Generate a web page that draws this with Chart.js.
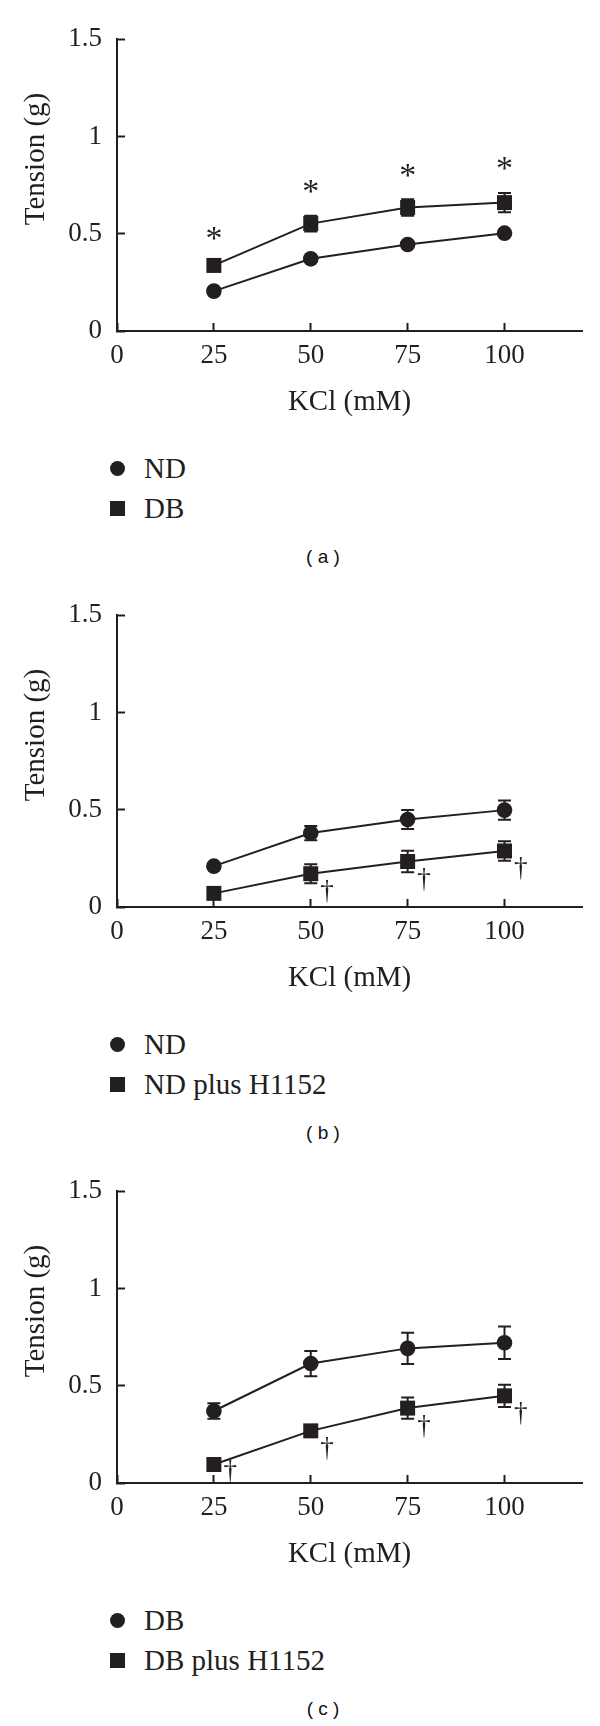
<!DOCTYPE html>
<html>
<head>
<meta charset="utf-8">
<script src="https://cdn.jsdelivr.net/npm/chart.js@4.4.1/dist/chart.umd.min.js"></script>
<style>
  html, body { margin: 0; padding: 0; background: #fff; width: 600px; height: 1726px; overflow: hidden; }
  .panel { position: absolute; left: 0; width: 600px; height: 576px; }
  .panel canvas { position: absolute; left: 0; top: 0; }
  .item { position: absolute; left: 0; width: 600px; height: 40px; font-family: 'Liberation Serif', serif; font-size: 29px; line-height: 40px; color: #231f20; }
  .item .txt { position: absolute; left: 144px; top: 0; white-space: nowrap; }
  .item .circ { position: absolute; left: 109.5px; top: 12.5px; width: 15px; height: 15px; border-radius: 50%; background: #231f20; }
  .item .sq { position: absolute; left: 110px; top: 13px; width: 15px; height: 15px; background: #231f20; }
  .caption { position: absolute; left: 0; width: 646px; text-align: center; font-family: 'Liberation Sans', Arial, sans-serif; font-size: 19px; line-height: 24px; color: #111; }
</style>
</head>
<body>
<div id="root"></div>
<script>
// ---------- shared axis data ----------
const kcl = [25, 50, 75, 100];
const xTicks = [0, 25, 50, 75, 100];
const yTicks = [0, 0.5, 1, 1.5];
const yTickLabels = ['0', '0.5', '1', '1.5'];
const xTitle = 'KCl (mM)';
const yTitle = 'Tension (g)';

// ---------- panel (a) ----------
const aCaption = '( a )';
const aLabels = ['ND', 'DB'];
const aND = [0.205, 0.371, 0.445, 0.503];
const aNDErr = [0.015, 0.015, 0.015, 0.015];
const aDB = [0.337, 0.552, 0.635, 0.660];
const aDBErr = [0.015, 0.040, 0.042, 0.050];
const aDBMarks = ['*', '*', '*', '*'];

// ---------- panel (b) ----------
const bCaption = '( b )';
const bLabels = ['ND', 'ND plus H1152'];
const bND = [0.210, 0.380, 0.450, 0.498];
const bNDErr = [0.015, 0.037, 0.049, 0.049];
const bH = [0.070, 0.171, 0.234, 0.288];
const bHErr = [0.015, 0.049, 0.055, 0.050];
const bHMarks = ['', '†', '†', '†'];

// ---------- panel (c) ----------
const cCaption = '( c )';
const cLabels = ['DB', 'DB plus H1152'];
const cDB = [0.370, 0.614, 0.692, 0.721];
const cDBErr = [0.040, 0.065, 0.080, 0.083];
const cH = [0.095, 0.268, 0.385, 0.448];
const cHErr = [0.015, 0.020, 0.055, 0.057];
const cHMarks = ['†', '†', '†', '†'];

const INK = '#231f20';
const SERIF = "'Liberation Serif', 'Times New Roman', serif";

const extras = {
  id: 'extras',
  beforeDatasetsDraw(chart) {
    const { ctx, scales: { x, y } } = chart;
    ctx.save();
    ctx.strokeStyle = INK;
    ctx.lineWidth = 2;
    chart.data.datasets.forEach(ds => {
      if (!ds.errors) return;
      ds.data.forEach((p, i) => {
        const e = ds.errors[i];
        if (!e) return;
        const px = x.getPixelForValue(p.x);
        const yt = y.getPixelForValue(p.y + e);
        const yb = y.getPixelForValue(p.y - e);
        ctx.beginPath();
        ctx.moveTo(px, yt); ctx.lineTo(px, yb);
        ctx.moveTo(px - 6.5, yt); ctx.lineTo(px + 6.5, yt);
        ctx.moveTo(px - 6.5, yb); ctx.lineTo(px + 6.5, yb);
        ctx.stroke();
      });
    });
    ctx.restore();
  },
  afterDraw(chart) {
    const { ctx, scales: { x, y } } = chart;
    ctx.save();
    ctx.fillStyle = INK;
    const zeroPix = y.getPixelForValue(0);
    chart.data.datasets.forEach(ds => {
      if (!ds.marks) return;
      ds.data.forEach((p, i) => {
        const s = ds.marks[i];
        if (!s) return;
        const px = x.getPixelForValue(p.x);
        let cx, cy;
        if (s === '*') {
          ctx.font = '34px ' + SERIF;
          cx = px;
          cy = y.getPixelForValue(p.y + (ds.errors ? ds.errors[i] : 0)) - 29;
        } else {
          ctx.font = '27px ' + SERIF;
          cx = px + 16;
          cy = Math.min(y.getPixelForValue(p.y) + 18, zeroPix - 12);
        }
        const m = ctx.measureText(s);
        const w = m.actualBoundingBoxLeft + m.actualBoundingBoxRight;
        const h = m.actualBoundingBoxAscent + m.actualBoundingBoxDescent;
        ctx.textBaseline = 'alphabetic';
        ctx.textAlign = 'left';
        ctx.fillText(s, cx - w / 2 + m.actualBoundingBoxLeft, cy - h / 2 + m.actualBoundingBoxAscent);
      });
    });
    // y-axis title
    ctx.translate(36, 159);
    ctx.rotate(-Math.PI / 2);
    ctx.font = '29px ' + SERIF;
    ctx.textAlign = 'center';
    ctx.textBaseline = 'middle';
    ctx.fillText(chart.options.yTitleText, 0, 0);
    ctx.restore();
  }
};

function series(vals, errs, style, marks) {
  return {
    data: kcl.map((k, i) => ({ x: k, y: vals[i] })),
    errors: errs,
    marks: marks || null,
    borderColor: INK,
    borderWidth: 2,
    pointStyle: style,
    pointRadius: style === 'rect' ? 10.6 : 7.8,
    pointBackgroundColor: INK,
    pointBorderColor: INK,
    pointBorderWidth: 0,
    tension: 0,
    clip: false
  };
}

function makePanel(top, labels, ds1, ds2, caption) {
  const root = document.getElementById('root');
  const div = document.createElement('div');
  div.className = 'panel';
  div.style.top = top + 'px';
  const canvas = document.createElement('canvas');
  canvas.width = 600; canvas.height = 430;
  canvas.style.width = '600px'; canvas.style.height = '430px';
  div.appendChild(canvas);

  // legend
  const legendY = [468, 508];
  labels.forEach((lab, i) => {
    const it = document.createElement('div');
    it.className = 'item';
    it.style.top = (legendY[i] - 20) + 'px';
    const sym = document.createElement('div');
    sym.className = i === 0 ? 'circ' : 'sq';
    const t = document.createElement('span');
    t.className = 'txt';
    t.textContent = lab;
    it.appendChild(sym); it.appendChild(t);
    div.appendChild(it);
  });
  const cap = document.createElement('div');
  cap.className = 'caption';
  cap.style.top = (559 - 13.7) + 'px';
  cap.textContent = caption;
  div.appendChild(cap);
  root.appendChild(div);

  ds1.label = labels[0];
  ds2.label = labels[1];

  new Chart(canvas.getContext('2d'), {
    type: 'line',
    data: { datasets: [ds1, ds2] },
    options: {
      responsive: false,
      animation: false,
      devicePixelRatio: 1,
      yTitleText: yTitle,
      layout: { padding: { top: 23, right: 18, left: 0, bottom: 0 } },
      plugins: { legend: { display: false }, tooltip: { enabled: false } },
      scales: {
        x: {
          type: 'linear',
          min: 0, max: 120,
          afterBuildTicks: s => { s.ticks = xTicks.map(v => ({ value: v })); },
          afterFit: s => { s.height = 99; },
          grid: { drawOnChartArea: false, drawTicks: true, tickLength: -8, tickWidth: 2, color: INK },
          border: { display: true, color: INK, width: 2 },
          ticks: { font: { family: SERIF, size: 27 }, color: INK, padding: 17, maxRotation: 0, autoSkip: false },
          title: { display: true, text: xTitle, font: { family: SERIF, size: 29 }, color: INK, padding: { top: 0, bottom: 10 } }
        },
        y: {
          type: 'linear',
          min: 0, max: 1.5,
          afterBuildTicks: s => { s.ticks = yTicks.map(v => ({ value: v })); },
          afterFit: s => { s.width = 117; },
          grid: { drawOnChartArea: false, drawTicks: true, tickLength: -8, tickWidth: 2, color: INK },
          border: { display: true, color: INK, width: 2 },
          ticks: {
            font: { family: SERIF, size: 27 }, color: INK, padding: 23,
            callback: v => { const k = yTicks.indexOf(v); return k >= 0 ? yTickLabels[k] : ''; }
          }
        }
      }
    },
    plugins: [extras]
  });
}

makePanel(0, aLabels, series(aND, aNDErr, 'circle'), series(aDB, aDBErr, 'rect', aDBMarks), aCaption);
makePanel(576, bLabels, series(bND, bNDErr, 'circle'), series(bH, bHErr, 'rect', bHMarks), bCaption);
makePanel(1152, cLabels, series(cDB, cDBErr, 'circle'), series(cH, cHErr, 'rect', cHMarks), cCaption);
</script>
</body>
</html>
